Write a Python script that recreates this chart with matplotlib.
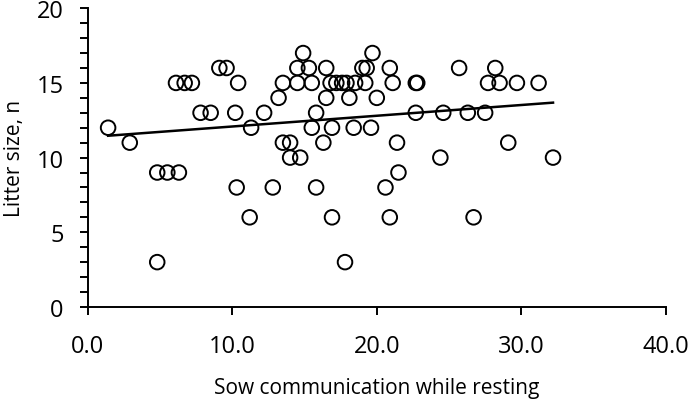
import numpy as np
import matplotlib
matplotlib.use("Agg")
import matplotlib.pyplot as plt
from matplotlib.ticker import MultipleLocator

# Data
sow_communication = [1.4, 2.9, 4.8, 5.5, 6.3, 4.8, 6.1, 6.7, 7.2, 7.8, 8.5, 9.1, 9.6,
                     10.4, 10.2, 10.3, 11.3, 11.2, 12.2, 12.8, 13.2, 13.5, 13.5, 14.0,
                     14.0, 14.7, 14.5, 15.3, 14.9, 14.5, 15.5, 15.8, 15.5, 15.8, 16.5,
                     16.5, 16.3, 16.9, 16.9, 16.8, 17.2, 17.6, 17.9, 18.5, 19.2, 18.1,
                     18.4, 17.8, 19.0, 19.3, 19.7, 20.0, 19.6, 20.9, 21.1, 21.4, 21.5,
                     20.6, 20.9, 22.7, 22.8, 22.7, 24.6, 24.4, 25.7, 26.3, 26.7, 27.5,
                     27.7, 28.2, 28.5, 29.7, 29.1, 31.2, 32.2]
litter_size = [12, 11, 9, 9, 9, 3, 15, 15, 15, 13, 13, 16, 16,
               15, 13, 8, 12, 6, 13, 8, 14, 15, 11, 11,
               10, 10, 16, 16, 17, 15, 15, 13, 12, 8, 16,
               14, 11, 12, 6, 15, 15, 15, 15, 15, 15, 14,
               12, 3, 16, 16, 17, 14, 12, 16, 15, 11, 9,
               8, 6, 15, 15, 13, 13, 10, 16, 13, 6, 13,
               15, 16, 15, 15, 11, 15, 10]

x_ticks = [0, 10, 20, 30, 40]
x_ticklabels = ["0.0", "10.0", "20.0", "30.0", "40.0"]
y_ticks = [0, 5, 10, 15, 20]

plt.rcParams['font.family'] = ['Open Sans', 'DejaVu Sans']

fig = plt.figure(figsize=(6.92, 4.02), dpi=100)
ax = fig.add_axes([0.127, 0.234, 0.835, 0.743])

x = np.array(sow_communication)
y = np.array(litter_size)
ax.scatter(x, y, s=110, facecolors='none', edgecolors='black', linewidths=1.4, zorder=3)

slope, intercept = np.polyfit(x, y, 1)
xf = np.array([x.min(), x.max()])
ax.plot(xf, slope * xf + intercept, color='black', linewidth=1.8, zorder=2)

ax.set_xlim(0, 40)
ax.set_ylim(0, 20)
ax.set_xticks(x_ticks)
ax.set_xticklabels(x_ticklabels)
ax.set_yticks(y_ticks)
ax.yaxis.set_minor_locator(MultipleLocator(1))
ax.tick_params(axis='both', which='both', direction='out', length=5.5, width=1.4,
               labelsize=17, colors='black')
ax.tick_params(axis='x', pad=14)
ax.tick_params(axis='y', pad=12)
for s in ['top', 'right']:
    ax.spines[s].set_visible(False)
for s in ['left', 'bottom']:
    ax.spines[s].set_linewidth(1.4)

ax.set_xlabel("Sow communication while resting", fontsize=15)
ax.set_ylabel("Litter size, n", fontsize=15)
ax.xaxis.set_label_coords(0.5, -0.235)
ax.yaxis.set_label_coords(-0.109, 0.5)

fig.savefig("out.png", dpi=100)
